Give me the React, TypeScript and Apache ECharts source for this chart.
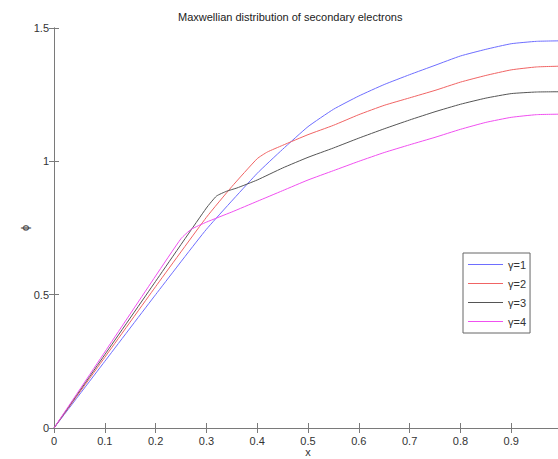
import React, { useEffect, useRef } from "react";
import * as echarts from "echarts";

const titleText = "Maxwellian distribution of secondary electrons";
const seriesNames = ["γ=1", "γ=2", "γ=3", "γ=4"];
const seriesColors = ["#6e6eff", "#f06464", "#555555", "#f050f0"];

const x1 = [0, 0.1, 0.2, 0.3, 0.4, 0.45, 0.5, 0.55, 0.6, 0.65, 0.7, 0.75, 0.8, 0.85, 0.9, 0.95, 1.0];
const y1 = [0, 0.25, 0.5, 0.745, 0.955, 1.045, 1.13, 1.195, 1.245, 1.288, 1.325, 1.36, 1.395, 1.42, 1.441, 1.45, 1.452];

const x2 = [0, 0.1, 0.2, 0.3, 0.35, 0.4, 0.42, 0.45, 0.5, 0.55, 0.6, 0.65, 0.7, 0.75, 0.8, 0.85, 0.9, 0.95, 1.0];
const y2 = [0, 0.265, 0.53, 0.79, 0.905, 1.01, 1.035, 1.06, 1.1, 1.135, 1.175, 1.21, 1.238, 1.266, 1.297, 1.322, 1.343, 1.354, 1.357];

const x3 = [0, 0.1, 0.2, 0.3, 0.32, 0.34, 0.36, 0.4, 0.45, 0.5, 0.55, 0.6, 0.65, 0.7, 0.75, 0.8, 0.85, 0.9, 0.95, 1.0];
const y3 = [0, 0.275, 0.55, 0.825, 0.87, 0.888, 0.9, 0.93, 0.975, 1.015, 1.05, 1.087, 1.122, 1.155, 1.186, 1.214, 1.237, 1.254, 1.26, 1.261];

const x4 = [0, 0.1, 0.2, 0.25, 0.27, 0.3, 0.35, 0.4, 0.45, 0.5, 0.55, 0.6, 0.65, 0.7, 0.75, 0.8, 0.85, 0.9, 0.95, 1.0];
const y4 = [0, 0.285, 0.57, 0.71, 0.745, 0.772, 0.81, 0.85, 0.89, 0.93, 0.965, 1.0, 1.033, 1.062, 1.09, 1.12, 1.146, 1.165, 1.175, 1.177];

const xs = [x1, x2, x3, x4];
const ys = [y1, y2, y3, y4];

const FONT = "'Liberation Sans', Arial, sans-serif";
const AXIS_COLOR = "#7a7a7a";
const TEXT_COLOR = "#333333";

export default function App() {
  const ref = useRef<HTMLDivElement>(null);
  useEffect(() => {
    if (!ref.current) return;
    const chart = echarts.init(ref.current, undefined, { renderer: "svg" });
    const axisLineStyle = { lineStyle: { color: AXIS_COLOR, width: 1 } };
    const tickStyle = { show: true, inside: true, length: 5, lineStyle: { color: AXIS_COLOR } };
    chart.setOption({
      animation: false,
      backgroundColor: "#ffffff",
      title: {
        text: titleText,
        left: 173,
        top: 6,
        textStyle: { fontSize: 11, fontWeight: "normal", color: "#222", fontFamily: FONT },
      },
      legend: {
        orient: "vertical",
        left: 463,
        top: 253,
        padding: [6, 4, 6, 5],
        itemGap: 8,
        itemWidth: 35,
        itemHeight: 1,
        icon: "rect",
        borderColor: "#666",
        borderWidth: 1,
        backgroundColor: "#fff",
        textStyle: { fontSize: 11, color: TEXT_COLOR, fontFamily: FONT },
        data: seriesNames,
      },
      grid: { left: 54, top: 28, right: -4, bottom: 31, containLabel: false, outerBoundsMode: "none" },
      xAxis: [
        {
          type: "value",
          min: 0,
          max: 1,
          interval: 0.1,
          position: "bottom",
          name: "x",
          nameLocation: "middle",
          nameGap: 18,
          nameMoveOverlap: false,
          nameTextStyle: { fontSize: 11, color: TEXT_COLOR, fontFamily: FONT, lineHeight: 11 },
          axisLine: axisLineStyle,
          axisTick: tickStyle,
          splitLine: { show: false },
          axisLabel: {
            margin: 7,
            fontSize: 11,
            color: TEXT_COLOR,
            fontFamily: FONT,
            formatter: (v: number) => (Math.abs(v - 1) < 1e-9 ? "" : String(Math.round(v * 10) / 10)),
          },
        },
        {
          type: "value",
          min: 0,
          max: 1,
          interval: 0.1,
          position: "top",
          axisLine: axisLineStyle,
          axisTick: tickStyle,
          axisLabel: { show: false },
          splitLine: { show: false },
        },
      ],
      yAxis: [
        {
          type: "value",
          min: 0,
          max: 1.5,
          interval: 0.5,
          position: "left",
          name: "ϕ",
          nameLocation: "middle",
          nameGap: 24,
          nameMoveOverlap: false,
          nameRotate: 90,
          nameTextStyle: { fontSize: 11, color: TEXT_COLOR, fontFamily: FONT },
          axisLine: axisLineStyle,
          axisTick: tickStyle,
          splitLine: { show: false },
          axisLabel: {
            margin: 5,
            fontSize: 11,
            color: TEXT_COLOR,
            fontFamily: FONT,
            formatter: (v: number) => String(v),
          },
        },
        {
          type: "value",
          min: 0,
          max: 1.5,
          interval: 0.5,
          position: "right",
          axisLine: axisLineStyle,
          axisTick: tickStyle,
          axisLabel: { show: false },
          splitLine: { show: false },
        },
      ],
      series: seriesNames.map((name, i) => ({
        name,
        type: "line",
        xAxisIndex: 0,
        yAxisIndex: 0,
        showSymbol: false,
        symbol: "none",
        smooth: 0.15,
        color: seriesColors[i],
        lineStyle: { width: 1, color: seriesColors[i] },
        data: xs[i].map((x, j) => [x, ys[i][j]]),
      })),
    });
    return () => chart.dispose();
  }, []);
  return (
    <div
      ref={ref}
      style={{ position: "fixed", left: 0, top: 0, width: 558, height: 459, background: "#fff" }}
    />
  );
}
